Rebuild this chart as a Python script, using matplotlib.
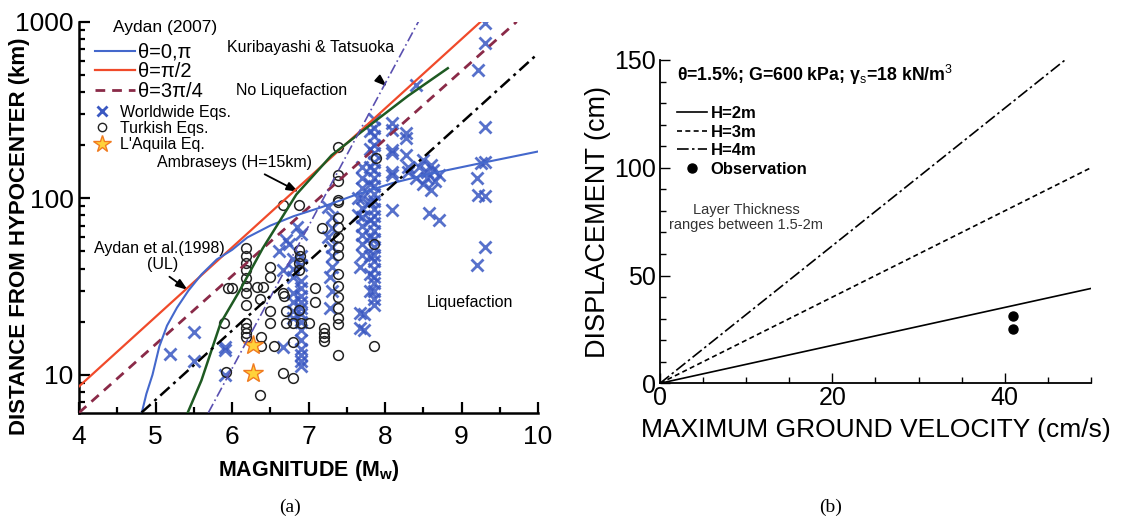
import numpy as np
import matplotlib
matplotlib.use("Agg")
import matplotlib.pyplot as plt
from matplotlib.lines import Line2D
from matplotlib.ticker import MultipleLocator, FixedLocator, LogLocator, NullFormatter, FuncFormatter

plt.rcParams['font.family'] = ['Liberation Sans', 'DejaVu Sans']
plt.rcParams['mathtext.fontset'] = 'custom'
plt.rcParams['mathtext.rm'] = 'Liberation Sans'
plt.rcParams['mathtext.bf'] = 'Liberation Sans:bold'

# ---------------- (a) magnitude vs hypocentral distance ----------------
# Aydan (2007) bounds
red_mw = [4.0, 9.25]
red_r = [8.6, 1000]
maroon_mw = [4.0, 9.72]
maroon_r = [6.1, 1000]
blue_mw = [4.82, 4.88, 4.96, 5.05, 5.15, 5.28, 5.43, 5.6, 5.8, 6.0, 6.2, 6.5, 6.8, 7.17, 7.6, 8.1, 8.6, 9.25, 10.0]
blue_r = [6.1, 7.8, 10, 14.5, 19, 24, 30, 37, 45, 51, 60, 70, 79, 89, 104, 122, 138, 158, 184]
# Ambraseys (H=15km)
green_mw = [5.42, 5.6, 5.85, 6.1, 6.4, 6.84, 7.3, 7.83, 8.3, 8.82]
green_r = [6.1, 9.3, 19.6, 30, 52, 105, 175, 265, 380, 545]
# Kuribayashi & Tatsuoka
kt_mw = [5.69, 8.585]
kt_r = [6.1, 1320]
# Aydan et al. (1998) UL
ul_mw = [4.815, 10.0]
ul_r = [6.1, 661]

world_mw = [5.19, 5.5, 5.5, 5.91, 5.91, 5.91,
            6.62, 6.66, 6.66, 6.7, 6.75, 6.85, 6.9,
            6.8, 6.8, 6.8, 6.8, 6.8, 6.8, 6.8,
            6.9, 6.9, 6.9, 6.9, 6.9, 6.9, 6.9, 6.9, 6.9, 6.9, 6.9, 6.9, 6.9, 6.9, 6.9,
            7.28, 7.28, 7.3, 7.3, 7.3, 7.25, 7.3, 7.3, 7.25, 7.3,
            7.67, 7.67, 7.67, 7.72, 7.72,
            7.7, 7.7, 7.7, 7.7, 7.7, 7.7, 7.7, 7.7, 7.7, 7.7, 7.65, 7.65,
            7.86, 7.86, 7.86, 7.86, 7.86, 7.86, 7.86, 7.86, 7.86, 7.86, 7.86, 7.86, 7.86,
            7.86, 7.86, 7.86, 7.86, 7.86, 7.86, 7.86, 7.86, 7.86, 7.86, 7.86, 7.86,
            7.8, 7.8, 7.8, 7.8, 7.8, 7.8, 7.8, 7.8, 7.8, 7.8,
            8.09, 8.09, 8.09, 8.09, 8.09, 8.09, 8.09,
            8.28, 8.28, 8.28, 8.3, 8.3, 8.4,
            8.45, 8.5, 8.55, 8.6, 8.65, 8.5, 8.6, 8.7, 8.55, 8.62, 8.58, 8.7, 8.4,
            9.3, 9.3, 9.22, 9.3, 9.25, 9.2, 9.22, 9.3, 9.3, 9.2, 9.3]
world_r = [13.2, 17.4, 11.9, 13.8, 14.3, 10.0,
           50, 39, 14.3, 58, 55, 69, 63,
           45, 40, 36, 29, 26, 23, 21,
           47, 42, 34, 31, 28, 26, 24, 22, 20, 18, 15.7, 14, 13, 12, 11.2,
           36, 24, 41, 47, 53, 60, 68, 78, 89, 30,
           41, 22.4, 18.5, 22, 18,
           150, 130, 115, 100, 88, 78, 70, 62, 55, 48, 100, 80,
           280, 250, 225, 200, 180, 160, 145, 130, 118, 106, 96, 87, 79,
           72, 65, 59, 53, 48, 44, 40, 36, 33, 30, 27, 25,
           240, 190, 150, 120, 95, 75, 60, 47, 37, 30,
           267, 245, 188, 180, 141, 135, 86,
           233, 220, 176, 141, 150, 440,
           150, 165, 140, 155, 125, 120, 112, 135, 130, 145, 82, 75, 130,
           980, 755, 530, 254, 158, 130, 105, 103, 53, 42, 160]

turk_mw = [5.9, 5.92, 5.95, 6.0, 6.18, 6.18, 6.18, 6.18, 6.18, 6.18, 6.18, 6.18,
           6.18, 6.18, 6.18, 6.18, 6.32, 6.4, 6.36, 6.38, 6.38, 6.36,
           6.5, 6.5, 6.5, 6.5, 6.55, 6.66, 6.68, 6.7, 6.7, 6.66, 6.66, 6.8,
           6.8, 6.8, 6.88, 6.89, 6.88, 6.88, 6.88, 6.88, 6.9, 7.0,
           7.08, 7.08, 7.17, 7.2, 7.2, 7.2, 7.2,
           7.38, 7.38, 7.38, 7.38, 7.38, 7.38, 7.38, 7.38, 7.38, 7.38,
           7.38, 7.38, 7.38, 7.38, 7.38, 7.38, 7.38,
           7.86, 7.88, 7.86]
turk_r = [19.6, 10.4, 31, 31, 52, 47, 43, 39, 35.5, 32, 29, 25,
          19.6, 18.5, 17.3, 16.4, 31.5, 31.5, 27, 16.4, 14.5, 7.7,
          41, 36, 23, 19.6, 14.5, 92, 28, 23, 19.6, 10.2, 29, 9.6,
          15.3, 19.6, 23.3, 47, 39, 43, 51, 92, 19.6, 19.6,
          31, 26, 68, 18.5, 17.3, 16.4, 15.5,
          195, 135, 125, 98, 95, 77, 69, 60, 53, 48,
          37, 32, 27.5, 24, 21, 19.3, 12.9,
          14.5, 170, 55]

aquila_mw = [6.28, 6.28]
aquila_r = [14.8, 10.3]

# ---------------- (b) displacement vs ground velocity ----------------
vel = [0, 50]
h2_disp = [0, 44]
h3_disp = [0, 100]
h4_vel = [0, 47]
h4_disp = [0, 150]
obs_vel = [41, 41]
obs_disp = [31, 25]

fig = plt.figure(figsize=(11.34, 5.24), dpi=100)
ax = fig.add_axes([0.0697, 0.2124, 0.4048, 0.7462])
bx = fig.add_axes([0.582, 0.2685, 0.380, 0.617])

ax.plot(world_mw, world_r, 'x', color='#3a58c2', ms=8, mew=2, alpha=0.85, zorder=3)
ax.plot(turk_mw, turk_r, 'o', mfc='none', mec='#222222', ms=7, mew=1.1, zorder=4)
ax.plot(aquila_mw, aquila_r, '*', mfc='#ffd23a', mec='#f07a20', ms=15, mew=1, zorder=5)

ax.plot(red_mw, red_r, color='#f04a2a', lw=1.6, zorder=6)
ax.plot(maroon_mw, maroon_r, color='#8a2a48', lw=2, ls=(0, (3.5, 2.5)), zorder=6)
ax.plot(blue_mw, blue_r, color='#4468cc', lw=1.5, zorder=6)
ax.plot(green_mw, green_r, color='#1e5a22', lw=1.8, zorder=6)
ax.plot(kt_mw, kt_r, color='#5a50b0', lw=1.2, ls=(0, (6, 2, 1, 2)), zorder=6)
ax.plot(ul_mw, ul_r, color='black', lw=1.8, ls=(0, (5, 2, 1.2, 2)), zorder=6)

ax.set_yscale('log')
ax.set_xlim(4, 10)
ax.set_ylim(6.1, 1000)
ax.xaxis.set_major_locator(MultipleLocator(1))
ax.xaxis.set_minor_locator(MultipleLocator(0.5))
ax.yaxis.set_major_locator(FixedLocator([10, 100, 1000]))
ax.yaxis.set_minor_locator(LogLocator(base=10, subs=np.arange(2, 10)))
ax.yaxis.set_major_formatter(FuncFormatter(lambda v, p: '%d' % v))
ax.yaxis.set_minor_formatter(NullFormatter())
ax.tick_params(which='both', direction='in', labelsize=19, width=1.6)
ax.tick_params(which='major', length=8)
ax.tick_params(which='minor', length=4.5)
ax.tick_params(axis='x', which='major', pad=9)
ax.tick_params(axis='y', which='major', pad=4)
for s in ['top', 'right']:
    ax.spines[s].set_visible(False)
for s in ['left', 'bottom']:
    ax.spines[s].set_linewidth(1.8)
ax.set_xlabel(r'MAGNITUDE (M$_\mathbf{w}$)', fontsize=15.5, fontweight='bold', labelpad=6)
ax.set_ylabel('DISTANCE FROM HYPOCENTER (km)', fontsize=16, fontweight='bold')
ax.yaxis.set_label_coords(-0.107, 0.452)

ax.text(0.187, 0.986, 'Aydan (2007)', transform=ax.transAxes, fontsize=12.5,
        ha='center', va='center')
lines_h = [Line2D([], [], color='#4468cc', lw=1.5),
           Line2D([], [], color='#f04a2a', lw=1.6),
           Line2D([], [], color='#8a2a48', lw=2, ls=(0, (3.5, 2.5)))]
leg1 = ax.legend(lines_h, ['θ=0,π', 'θ=π/2', 'θ=3π/4'],
                 loc='upper left', bbox_to_anchor=(0.035, 0.946), frameon=False,
                 fontsize=14.5, handlelength=2.0, handletextpad=0.15,
                 labelspacing=0.02, borderpad=0, borderaxespad=0)
ax.add_artist(leg1)
marks_h = [Line2D([], [], ls='none', marker='x', color='#3a58c2', ms=7, mew=2),
           Line2D([], [], ls='none', marker='o', mfc='none', mec='#222222', ms=6, mew=1),
           Line2D([], [], ls='none', marker='*', mfc='#ffd23a', mec='#f07a20', ms=13)]
ax.legend(marks_h, ['Worldwide Eqs.', 'Turkish Eqs.', "L'Aquila Eq."],
          loc='upper left', bbox_to_anchor=(0.03, 0.788), frameon=False, fontsize=11.5,
          handlelength=1.2, handletextpad=0.5, labelspacing=0.08, borderpad=0, borderaxespad=0)

ax.text(0.505, 0.935, 'Kuribayashi & Tatsuoka', transform=ax.transAxes, fontsize=11.5,
        ha='center', va='center')
ax.text(0.462, 0.825, 'No Liquefaction', transform=ax.transAxes, fontsize=11.5,
        ha='center', va='center')
ax.text(0.338, 0.639, 'Ambraseys (H=15km)', transform=ax.transAxes, fontsize=11.5,
        ha='center', va='center')
ax.text(0.176, 0.421, 'Aydan et al.(1998)', transform=ax.transAxes, fontsize=11.5,
        ha='center', va='center')
ax.text(0.181, 0.378, '(UL)', transform=ax.transAxes, fontsize=11.5, ha='center', va='center')
ax.text(0.852, 0.283, 'Liquefaction', transform=ax.transAxes, fontsize=11.5,
        ha='center', va='center')
arrow = dict(arrowstyle='-|>,head_length=0.7,head_width=0.25', color='black', lw=1.3)
ax.annotate('', xy=(8.05, 420), xytext=(0.647, 0.859), textcoords='axes fraction', arrowprops=arrow)
ax.annotate('', xy=(6.9, 107), xytext=(0.399, 0.613), textcoords='axes fraction', arrowprops=arrow)
ax.annotate('', xy=(5.45, 29.6), xytext=(0.192, 0.352), textcoords='axes fraction', arrowprops=arrow)

# ---------------- panel (b) ----------------
bx.plot(vel, h2_disp, color='black', lw=1.2, label='H=2m')
bx.plot(vel, h3_disp, color='black', lw=1.2, ls=(0, (3, 2)), label='H=3m')
bx.plot(h4_vel, h4_disp, color='black', lw=1.2, ls=(0, (7, 2, 1.5, 2)), label='H=4m')
bx.plot(obs_vel, obs_disp, 'o', color='black', ms=6.5, label='Observation')
bx.set_xlim(0, 50)
bx.set_ylim(0, 150)
bx.xaxis.set_major_locator(MultipleLocator(20))
bx.xaxis.set_minor_locator(MultipleLocator(5))
bx.yaxis.set_major_locator(MultipleLocator(50))
bx.yaxis.set_minor_locator(MultipleLocator(10))
bx.tick_params(which='both', direction='in', labelsize=18, width=1)
bx.tick_params(which='major', length=7)
bx.tick_params(which='minor', length=4)
bx.tick_params(axis='x', which='major', pad=2)
bx.tick_params(axis='y', which='major', pad=3)
for s in ['top', 'right']:
    bx.spines[s].set_visible(False)
for s in ['left', 'bottom']:
    bx.spines[s].set_linewidth(1.3)
bx.set_xlabel('MAXIMUM GROUND VELOCITY (cm/s)', fontsize=19, labelpad=6)
bx.set_ylabel('DISPLACEMENT (cm)', fontsize=19.5, labelpad=2)
bx.text(0.039, 0.954, r'θ=1.5%; G=600 kPa; γ$_{\mathrm{s}}$=18 kN/m$^{\mathrm{3}}$',
        transform=bx.transAxes, fontsize=12.8, fontweight='bold', va='center')
bx.legend(loc='upper left', bbox_to_anchor=(0.040, 0.858), frameon=False,
          prop={'weight': 'bold', 'size': 12}, handlelength=1.8, handletextpad=0.2,
          labelspacing=0.22, borderpad=0, borderaxespad=0, markerscale=1.0)
bx.text(0.2, 0.514, 'Layer Thickness\nranges between 1.5-2m', transform=bx.transAxes,
        fontsize=10.5, color='#333333', ha='center', va='center', linespacing=1.1)

fig.text(0.256, 0.032, '(a)', family='Liberation Serif', fontsize=14, ha='center', va='center')
fig.text(0.732, 0.032, '(b)', family='Liberation Serif', fontsize=14, ha='center', va='center')

fig.savefig('out.png', dpi=100)
